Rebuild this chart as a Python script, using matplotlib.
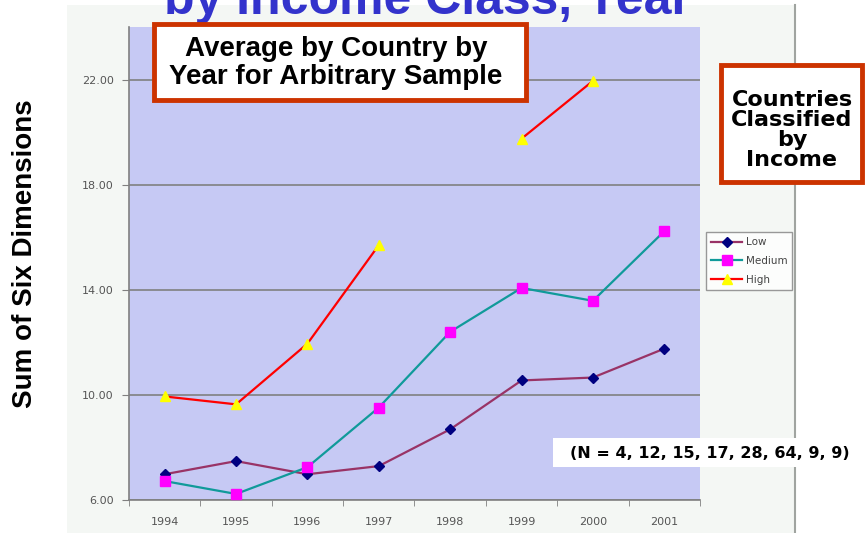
"""Average score by income class and year."""
import matplotlib
matplotlib.use('Agg')
import matplotlib.pyplot as plt
import numpy as np
from matplotlib.patches import Rectangle

YEARS = ['1994', '1995', '1996', '1997', '1998', '1999', '2000', '2001']
LOW = [6.98, 7.48, 6.98, 7.29, 8.69, 10.55, 10.66, 11.76]
MEDIUM = [6.72, 6.23, 7.25, 9.52, 12.40, 14.07, 13.58, 16.23]
HIGH = [9.94, 9.64, 11.95, 15.70, np.nan, 19.75, 21.95, np.nan]
YTICKS = [6, 10, 14, 18, 22]

W, H = 866, 533
fig = plt.figure(figsize=(W / 100, H / 100), dpi=100)
fig.patch.set_facecolor('white')

def fx(px):
    return px / W

def fy(py):
    return 1 - py / H

# Outer chart area (light grey) with right border
fig.add_artist(Rectangle((fx(67), 0), fx(795 - 67), fy(5), transform=fig.transFigure,
                         facecolor='#f4f7f4', edgecolor='none', zorder=0))
fig.add_artist(plt.Line2D([fx(795), fx(795)], [0, fy(5)], transform=fig.transFigure,
                          color='#a0a4a0', lw=1.5))

ax = fig.add_axes([fx(129), fy(500), fx(700 - 129), fy(27) - fy(500)])
ax.set_facecolor('#c6c9f4')

x = np.arange(len(YEARS))
ax.plot(x, LOW, color='#993366', lw=1.6, marker='D', ms=5,
        mfc='#000080', mec='#000080', label='Low', zorder=3)
ax.plot(x, MEDIUM, color='#109a9a', lw=1.6, marker='s', ms=6.5,
        mfc='#ff00ff', mec='#ff00ff', label='Medium', zorder=3)
ax.plot(x, HIGH, color='#ff0000', lw=1.6, marker='^', ms=6.5,
        mfc='#ffff00', mec='#ffff00', label='High', zorder=3)

ax.set_xlim(-0.5, len(YEARS) - 0.5)
ax.set_ylim(6, 24)
ax.set_yticks(YTICKS)
ax.set_yticklabels([f'{v:.2f}' for v in YTICKS])
ax.set_xticks(x)
ax.set_xticklabels(YEARS)
ax.set_xticks(np.arange(-0.5, len(YEARS)), minor=True)
ax.tick_params(axis='x', which='major', length=0, pad=12, labelsize=8, labelcolor='#555555')
ax.tick_params(axis='x', which='minor', length=4, color='#808080')
ax.tick_params(axis='y', length=5, color='#808080', labelsize=8, labelcolor='#555555', pad=6)
ax.grid(axis='y', color='#808080', lw=1.2)
ax.set_axisbelow(True)
for side in ('top', 'right'):
    ax.spines[side].set_visible(False)
for side in ('left', 'bottom'):
    ax.spines[side].set_color('#808080')
    ax.spines[side].set_linewidth(1.2)

leg = fig.legend(loc='upper left', bbox_to_anchor=(fx(706), fy(232)),
                 fontsize=7.5, frameon=True, fancybox=False, handlelength=3.0,
                 handletextpad=0.3, borderpad=0.5, labelspacing=0.85,
                 borderaxespad=0)
leg.get_frame().set_edgecolor('#808080')
leg.get_frame().set_linewidth(1.0)
for t in leg.get_texts():
    t.set_color('#444444')

# Slide title, cut off at the top edge as in the original slide
fig.text(fx(428), fy(14), 'by Income Class, Year', ha='center', va='baseline',
         fontsize=36, fontweight='bold', color='#3333cc', family='Liberation Sans')

fig.text(fx(25), fy(254), 'Sum of Six Dimensions', rotation=90, ha='center',
         va='center', fontsize=20, fontweight='bold', family='Liberation Sans')

# Annotation boxes
fig.add_artist(Rectangle((fx(154), fy(100)), fx(526 - 154), fy(24) - fy(100),
                         transform=fig.transFigure, facecolor='white',
                         edgecolor='#cc3300', lw=3.5, zorder=5))
fig.text(fx(336), fy(63), 'Average by Country by\nYear for Arbitrary Sample',
         ha='center', va='center', fontsize=20, fontweight='bold',
         family='Liberation Sans', linespacing=1.1, zorder=6)

fig.add_artist(Rectangle((fx(721), fy(182)), fx(862 - 721), fy(65) - fy(182),
                         transform=fig.transFigure, facecolor='white',
                         edgecolor='#cc3300', lw=3.5, zorder=5))
fig.text(fx(792), fy(130), 'Countries\nClassified\nby\nIncome', ha='center',
         va='center', fontsize=16, fontweight='bold', family='DejaVu Sans',
         linespacing=1.0, zorder=6)

fig.add_artist(Rectangle((fx(553), fy(467)), fx(866 - 553), fy(438) - fy(467),
                         transform=fig.transFigure, facecolor='white',
                         edgecolor='none', zorder=5))
fig.text(fx(710), fy(453), '(N = 4, 12, 15, 17, 28, 64, 9, 9)', ha='center',
         va='center', fontsize=11.5, fontweight='bold', family='DejaVu Sans', zorder=6)

fig.savefig('out.png', dpi=100)
